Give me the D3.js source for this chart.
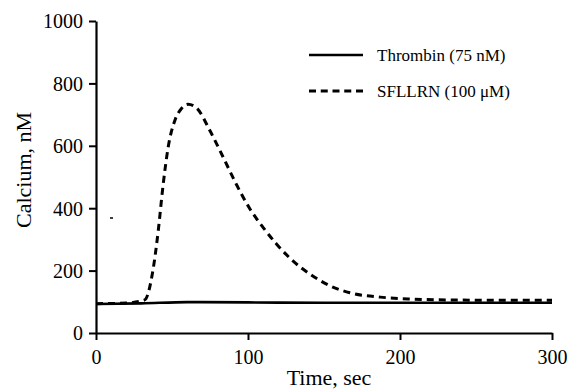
<!DOCTYPE html>
<html>
<head>
<meta charset="utf-8">
<script src="https://cdn.jsdelivr.net/npm/d3@7"></script>
<style>
  body { margin: 0; background: #fff; }
  svg text { font-family: "Liberation Serif", "DejaVu Serif", serif !important; fill: #000; }
</style>
</head>
<body>
<svg id="chart" width="571" height="389"></svg>
<script>
// data
const thrTime = [0, 30, 60, 100, 150, 200, 250, 300];
const thrCa = [93, 95, 99, 98, 97, 97, 97, 97];

const sflTime = [0, 20, 32, 37.5, 41, 44, 47.5, 52, 56, 60.5, 66, 75, 83.5, 92.5, 101, 110, 119, 128, 141, 154, 167, 187, 207, 230, 260, 300];
const sflCa = [94, 96, 106, 202, 330, 468, 596, 683, 718, 733, 722, 648, 565, 475, 400, 338, 284, 238, 188, 151, 129, 115, 109, 106, 105, 105];

const xTicks = [0, 100, 200, 300];
const yTicks = [0, 200, 400, 600, 800, 1000];
const legendNames = ['Thrombin (75 nM)', 'SFLLRN (100 \u03bcM)'];

const plotLeft = 96, plotRight = 552, plotTop = 21, plotBottom = 333;
const serif = '"Liberation Serif", "DejaVu Serif", serif';

const svg = d3.select('#chart');

const x = d3.scaleLinear().domain([0, 300]).range([plotLeft, plotRight]);
const y = d3.scaleLinear().domain([0, 1000]).range([plotBottom, plotTop]);

// axes
const xAxis = svg.append('g')
  .attr('transform', 'translate(0,' + plotBottom + ')')
  .call(d3.axisBottom(x).tickValues(xTicks).tickFormat(d3.format('d'))
    .tickSize(7).tickSizeOuter(0).tickPadding(5));
const yAxis = svg.append('g')
  .attr('transform', 'translate(' + plotLeft + ',0)')
  .call(d3.axisLeft(y).tickValues(yTicks).tickFormat(d3.format('d'))
    .tickSize(7).tickSizeOuter(0).tickPadding(6));

[xAxis, yAxis].forEach(a => {
  a.attr('font-family', serif).attr('font-size', 20);
  a.select('.domain').attr('stroke', '#000').attr('stroke-width', 2.2);
  a.selectAll('.tick line').attr('stroke', '#000').attr('stroke-width', 2);
  a.selectAll('.tick text').attr('fill', '#000');
});
xAxis.selectAll('.tick text').attr('dy', '0.95em');
yAxis.selectAll('.tick text').attr('dy', '0.34em');

// axis titles
svg.append('text')
  .attr('x', 329).attr('y', 385)
  .attr('text-anchor', 'middle')
  .attr('font-size', 22)
  .text('Time, sec');

svg.append('text')
  .attr('transform', 'translate(31,170) rotate(-90)')
  .attr('text-anchor', 'middle')
  .attr('font-size', 22)
  .text('Calcium, nM');

// lines
const line = d3.line()
  .x(d => x(d[0]))
  .y(d => y(d[1]))
  .curve(d3.curveMonotoneX);

svg.append('path')
  .datum(thrTime.map((t, i) => [t, thrCa[i]]))
  .attr('d', line)
  .attr('fill', 'none')
  .attr('stroke', '#000')
  .attr('stroke-width', 2.6);

svg.append('path')
  .datum(sflTime.map((t, i) => [t, sflCa[i]]))
  .attr('d', line)
  .attr('fill', 'none')
  .attr('stroke', '#000')
  .attr('stroke-width', 3)
  .attr('stroke-dasharray', '7,5');

// small stray mark in the original scan
svg.append('line')
  .attr('x1', 110).attr('x2', 113)
  .attr('y1', 218).attr('y2', 218)
  .attr('stroke', '#000').attr('stroke-width', 1.5);

// legend
const legend = svg.selectAll('.legend')
  .data(legendNames)
  .enter().append('g')
  .attr('class', 'legend')
  .attr('transform', (d, i) => 'translate(0,' + (55 + i * 36) + ')');

legend.append('line')
  .attr('x1', 309).attr('x2', 363)
  .attr('y1', 0).attr('y2', 0)
  .attr('stroke', '#000')
  .attr('stroke-width', (d, i) => i === 0 ? 2.6 : 3)
  .attr('stroke-dasharray', (d, i) => i === 0 ? null : '7,4.75');

legend.append('text')
  .attr('x', 377)
  .attr('y', 0)
  .attr('dy', '0.33em')
  .attr('font-size', 17)
  .text(d => d);
</script>
</body>
</html>
